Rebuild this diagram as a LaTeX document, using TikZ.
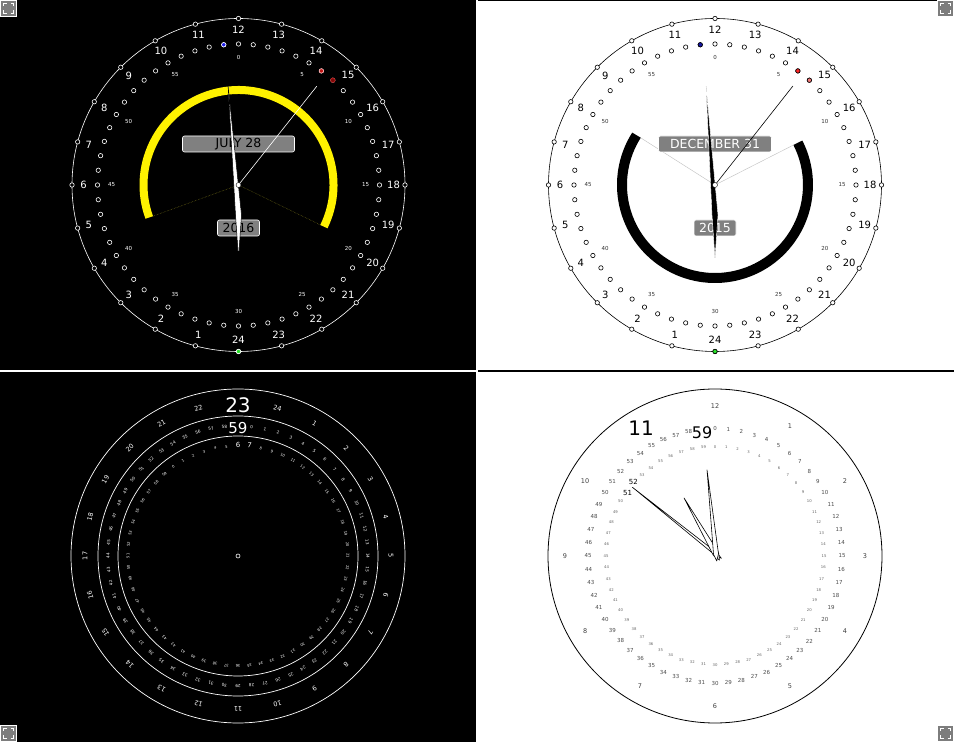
\documentclass[tikz,border=0pt]{standalone}
\usepackage{fontspec}
\setmainfont{DejaVu Sans}
\usepackage{xcolor}
\definecolor{dategray}{RGB}{128,128,128}
\definecolor{icongray}{RGB}{125,125,125}
\definecolor{minblue}{RGB}{30,30,235}
\definecolor{secred}{RGB}{190,20,20}
\definecolor{secdark}{RGB}{120,10,10}
\definecolor{secpink}{RGB}{240,120,120}
\definecolor{hourgreen}{RGB}{40,225,40}
\newcommand{\sizept}[1]{\fontsize{#1}{#1}\selectfont}

\tikzset{
  expandicon/.pic={
    \draw[white, fill=icongray, line width=0.8pt] (-8,-8) rectangle (8,8);
    \draw[white, line width=1pt] (-5,-2) -- (-5,-5) -- (-2,-5)
      (2,-5) -- (5,-5) -- (5,-2) (5,2) -- (5,5) -- (2,5) (-2,5) -- (-5,5) -- (-5,2);
  }
}

\begin{document}
\begin{tikzpicture}[x=1pt, y=1pt,
    lbl/.style={inner sep=0pt, font=\sizept{#1}},
    hourdot/.style={circle, draw, inner sep=0pt, minimum size=4.4pt, line width=0.6pt},
    datebox/.style={rectangle, rounded corners=2pt, fill=dategray, draw=white, line width=0.6pt,
                    minimum height=16pt, inner sep=0pt, font=\sizept{12.5}},
    hand/.style={draw=black, fill=white, line width=0.6pt, line join=round}
]
    \useasboundingbox (0,0) rectangle (954,742);
    \fill[white] (0,0) rectangle (954,742);
    \fill[black] (0,372) rectangle (476,742);
    \fill[black] (0,0) rectangle (476,370);
    \fill[black] (478,370) rectangle (954,372);
    \fill[black] (478,741) rectangle (938,742);

    % top left: dark 24 hour dial
    \begin{scope}[shift={(238.5,557)}]
        \draw[white, line width=0.6pt] (0,0) circle (166.5);
        \foreach \h in {1,...,24} {
            \node[hourdot, draw=white, fill=black] (tlh\h) at ({270-15*\h}:166.5) {};
            \node[lbl=10, text=white] (tll\h) at ({270-15*\h}:155) {\h};
        }
        \node[hourdot, draw=white, fill=hourgreen] (tlnow) at (-90:166.5) {};
        \foreach \m in {0,...,59}
            \node[hourdot, draw=white, fill=black] (tlm\m) at ({90-6*\m}:141) {};
        \foreach \m in {0,5,...,55}
            \node[lbl=5.5, text=white] (tlml\m) at ({90-6*\m}:127) {\m};
        \node[hourdot, draw=white, fill=minblue] (tlmin) at (96:141) {};
        \node[hourdot, draw=white!70!red, fill=secred] (tlsec) at (54:141) {};
        \node[hourdot, draw=secred, fill=secdark] (tlsecb) at (48:141) {};

        \draw[yellow, line width=8pt] (-26:95) arc[start angle=-26, end angle=200, radius=95];
        \draw[olive!80!black, densely dotted, line width=0.5pt] (200:91) -- (0,0) -- (-26:91);

        \node[datebox, minimum width=112pt, text=black] (tldate) at (0,41) {JULY 28};
        \node[datebox, minimum width=42pt, text=black] (tlyear) at (0,-43) {2016};

        \draw[white, line width=0.6pt] (0,0) -- (51.6:126);
        \filldraw[fill=white, draw=black, line width=0.5pt] (96:99.5) -- (-3,-30) -- (0,-73) -- (3,-30) -- cycle;
        \node[circle, draw=black, fill=white, inner sep=0pt, minimum size=5pt] (tlpin) at (0,0) {};
    \end{scope}

    % top right: light 24 hour dial
    \begin{scope}[shift={(715,557)}]
        \draw[black, line width=0.6pt] (0,0) circle (166.5);
        \foreach \h in {1,...,24} {
            \node[hourdot, draw=black, fill=white] (trh\h) at ({270-15*\h}:166.5) {};
            \node[lbl=10, text=black] (trl\h) at ({270-15*\h}:155) {\h};
        }
        \node[hourdot, draw=black, fill=hourgreen] (trnow) at (-90:166.5) {};
        \foreach \m in {0,...,59}
            \node[hourdot, draw=black, fill=white] (trm\m) at ({90-6*\m}:141) {};
        \foreach \m in {0,5,...,55}
            \node[lbl=5.5, text=black!80] (trml\m) at ({90-6*\m}:127) {\m};
        \node[hourdot, draw=black, fill=minblue!70!black] (trmin) at (96:141) {};
        \node[hourdot, draw=black, fill=red!85] (trsec) at (54:141) {};
        \node[hourdot, draw=black, fill=secpink] (trsecb) at (48:141) {};

        \draw[black, line width=10pt] (147.6:93) arc[start angle=147.6, end angle=387, radius=93];
        \draw[gray!50, line width=0.4pt] (147.6:88) -- (0,0) -- (27:88);

        \node[datebox, minimum width=113pt, text=white] (trdate) at (0,41) {DECEMBER 31};
        \node[datebox, minimum width=42pt, text=white] (tryear) at (0,-43) {2015};

        \draw[black, line width=0.6pt] (0,0) -- (51.8:126);
        \filldraw[fill=black, draw=white, line width=0.4pt] (95.2:99.4) -- (-3,-30) -- (0,-73) -- (3,-30) -- cycle;
        \node[circle, draw=black, fill=white, inner sep=0pt, minimum size=5pt] (trpin) at (0,0) {};
    \end{scope}

    % bottom left: rings of rotated numbers
    \begin{scope}[shift={(238,186)}]
        \foreach \r in {167,140,120}
            \draw[white, line width=0.7pt] (0,0) circle (\r);
        \node[circle, draw=white, inner sep=0pt, minimum size=4pt, line width=0.6pt] (blpin) at (0,0) {};
        \foreach \h [evaluate=\h as \a using 90-15*(\h-23)] in {1,...,22,24}
            \node[lbl=6.5, text=white, rotate=\a-90] (blh\h) at (\a:153) {\h};
        \node[lbl=20, text=white] (blhour) at (90:151) {23};
        \foreach \m [evaluate=\m as \a using 84-6*\m] in {0,...,58}
            \node[lbl=4.2, text=white, rotate=\a-90] (blm\m) at (\a:130) {\m};
        \node[lbl=15, text=white] (blmin) at (90:128) {59};
        \foreach \s [evaluate=\s as \a using 126-6*\s] in {0,...,5,8,9,...,59}
            \node[lbl=3.7, text=white, rotate=\a-90] (bls\s) at (\a:110) {\s};
        \node[lbl=7, text=white] (bls6) at (90:111) {6};
        \node[lbl=7, text=white, rotate=-6] (bls7) at (84:111) {7};
    \end{scope}

    % bottom right: 12 hour dial with hands
    \begin{scope}[shift={(715,186)}]
        \draw[black, line width=0.8pt] (0,0) circle (167);
        \foreach \h in {1,...,10,12}
            \node[lbl=6.5, text=black!75] (brh\h) at ({90-30*\h}:150) {\h};
        \node[lbl=20] (brhour) at (120:148) {11};
        \foreach \m in {0,...,58}
            \node[lbl=5.5, text=black!70] (brm\m) at ({90-6*\m}:127) {\m};
        \node[lbl=16] (brmin) at (96:124) {59};
        \foreach \s in {0,...,50,53,54,...,59}
            \node[lbl=3.8, text=black!60] (brs\s) at ({90-6*\s}:109) {\s};
        \node[lbl=7] (brs51) at (144:108) {51};
        \node[lbl=7] (brs52) at (138:110) {52};

        \begin{scope}[shift={(1,2)}]
            \draw[hand] (141.4:107) -- (231.4:1.5) -- (321.4:7) -- (51.4:1.5) -- cycle;
            \draw[hand] (119.7:64.5) -- (209.7:3) -- (299.7:7) -- (29.7:3) -- cycle;
            \draw[hand] (96.1:84.5) -- (186.1:2.5) -- (276.1:7) -- (6.1:2.5) -- cycle;
        \end{scope}
    \end{scope}

    \pic at (8.5,733.5) {expandicon};
    \pic at (945.5,733.5) {expandicon};
    \pic at (8.5,8.5) {expandicon};
    \pic at (945.5,8.5) {expandicon};
\end{tikzpicture}
\end{document}
